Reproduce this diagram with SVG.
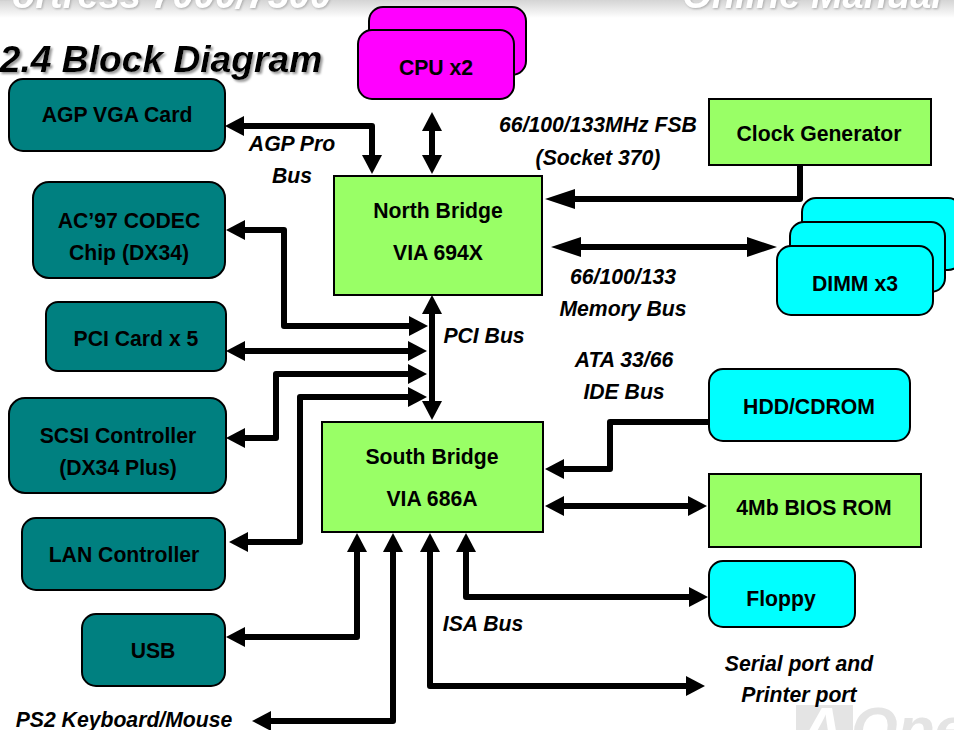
<svg xmlns="http://www.w3.org/2000/svg" width="954" height="730" viewBox="0 0 954 730">
<defs>
<linearGradient id="band" x1="0" y1="0" x2="0" y2="1"><stop offset="0" stop-color="#d4d4d4"/><stop offset="1" stop-color="#ffffff"/></linearGradient>
<filter id="sh" x="-5%" y="-20%" width="110%" height="140%"><feDropShadow dx="2" dy="2" stdDeviation="0.8" flood-color="#999"/></filter>
<filter id="sh2" x="-5%" y="-20%" width="110%" height="140%"><feDropShadow dx="1" dy="1" stdDeviation="1" flood-color="#aaa"/></filter>
<marker id="h" markerUnits="userSpaceOnUse" markerWidth="20" markerHeight="20" refX="9" refY="10" orient="auto-start-reverse"><path d="M0 0L19 10L0 20Z" fill="#000"/></marker>
<marker id="hl" markerUnits="userSpaceOnUse" markerWidth="30" markerHeight="20" refX="15" refY="10" orient="auto-start-reverse"><path d="M0 0L30 10L0 20Z" fill="#000"/></marker>
</defs>
<style>
text{font-family:"Liberation Sans",Arial,sans-serif;font-weight:bold;fill:#000;text-anchor:middle}
.n{font-size:21.2px}
.l{font-size:21.2px;font-style:italic}
.h{font-size:38px;font-style:italic;fill:#fff;filter:url(#sh2)}
.b{stroke:#000;stroke-width:2}
.t{fill:#008080}.g{fill:#99ff66}.c{fill:#00ffff}.m{fill:#ff00ff}
.w{fill:none;stroke:#000;stroke-width:6;stroke-linejoin:round}
.s{marker-end:url(#h)}.d{marker-start:url(#h);marker-end:url(#h)}
.ll{marker-start:url(#hl);marker-end:url(#hl)}
</style>
<rect width="954" height="730" fill="#fff"/>
<rect width="954" height="18" fill="url(#band)"/>
<text class="h" x="160" y="8">Fortress 7000/7500</text>
<text class="h" x="812" y="8">Online Manual</text>
<rect x="796" y="705" width="57" height="25" fill="#e4e4e4"/>
<text x="800" y="749" style="font-size:60px;font-style:italic;fill:#fff;text-anchor:start">A</text>
<text x="851" y="749" style="font-size:60px;font-style:italic;fill:#e4e4e4;text-anchor:start">Open</text>
<text x="161" y="72" style="font-size:37.2px;font-style:italic;filter:url(#sh)">2.4 Block Diagram</text>
<g id="connectors">
<path class="w d" d="M235 126H372V164"/>
<path class="w d" d="M432 122V164"/>
<path class="w ll" style="marker-start:none" d="M800 165V199H560"/>
<path class="w ll" d="M566 247H762"/>
<path class="w d" d="M236 230H284V326H418"/>
<path class="w d" d="M236 351H417"/>
<path class="w d" d="M417 374H276V438H236"/>
<path class="w d" d="M417 397H300V542H239"/>
<path class="w d" d="M432 305V410"/>
<path class="w d" d="M357 543V637H236"/>
<path class="w d" d="M393 543V721H262"/>
<path class="w d" d="M430 543V686H695"/>
<path class="w d" d="M466 543V597H698"/>
<path class="w s" d="M709 422H610V469H555"/>
<path class="w d" d="M555 506H697"/>
</g>
<g id="agp"><rect class="b t" x="9" y="79" width="216" height="72" rx="14"/><text class="n" x="117" y="122">AGP VGA Card</text></g>
<g id="cpu"><rect class="b m" x="369" y="7" width="157" height="68" rx="14"/><rect class="b m" x="358" y="30" width="156" height="69" rx="14"/><text class="n" x="436" y="75">CPU x2</text></g>
<g id="north"><rect class="b g" x="334" y="176" width="208" height="119"/><text class="n" x="438" y="218">North Bridge</text><text class="n" x="438" y="260">VIA 694X</text></g>
<g id="clock"><rect class="b g" x="709" y="99" width="222" height="66"/><text class="n" x="819" y="141">Clock Generator</text></g>
<g id="dimm"><rect class="b c" x="802" y="198" width="160" height="72" rx="14"/><rect class="b c" x="790" y="222" width="155" height="70" rx="14"/><rect class="b c" x="777" y="246" width="156" height="69" rx="14"/><text class="n" x="855" y="291">DIMM x3</text></g>
<g id="ac97"><rect class="b t" x="33" y="182" width="192" height="96" rx="16"/><text class="n" x="129" y="228">AC’97 CODEC</text><text class="n" x="129" y="260">Chip (DX34)</text></g>
<g id="pci"><rect class="b t" x="46" y="302" width="180" height="69" rx="12"/><text class="n" x="136" y="346">PCI Card x 5</text></g>
<g id="scsi"><rect class="b t" x="9" y="398" width="217" height="95" rx="16"/><text class="n" x="118" y="443">SCSI Controller</text><text class="n" x="118" y="475">(DX34 Plus)</text></g>
<g id="lan"><rect class="b t" x="22" y="518" width="203" height="72" rx="14"/><text class="n" x="124" y="562">LAN Controller</text></g>
<g id="usb"><rect class="b t" x="82" y="614" width="143" height="72" rx="14"/><text class="n" x="153" y="658">USB</text></g>
<g id="south"><rect class="b g" x="322" y="422" width="221" height="110"/><text class="n" x="432" y="464">South Bridge</text><text class="n" x="432" y="506">VIA 686A</text></g>
<g id="hdd"><rect class="b c" x="709" y="369" width="201" height="72" rx="14"/><text class="n" x="809" y="414">HDD/CDROM</text></g>
<g id="bios"><rect class="b g" x="709" y="474" width="212" height="73"/><text class="n" x="814" y="515">4Mb BIOS ROM</text></g>
<g id="floppy"><rect class="b c" x="709" y="561" width="146" height="66" rx="14"/><text class="n" x="781" y="606">Floppy</text></g>
<g id="labels">
<text class="l" x="292" y="151">AGP Pro</text><text class="l" x="292" y="183">Bus</text>
<text class="l" x="598" y="132">66/100/133MHz FSB</text><text class="l" x="598" y="165">(Socket 370)</text>
<text class="l" x="623" y="284">66/100/133</text><text class="l" x="623" y="316">Memory Bus</text>
<text class="l" x="484" y="343">PCI Bus</text>
<text class="l" x="624" y="367">ATA 33/66</text><text class="l" x="624" y="399">IDE Bus</text>
<text class="l" x="483" y="631">ISA Bus</text>
<text class="l" x="799" y="671">Serial port and</text><text class="l" x="799" y="702">Printer port</text>
<text class="l" x="124" y="727">PS2 Keyboard/Mouse</text>
</g>
</svg>
